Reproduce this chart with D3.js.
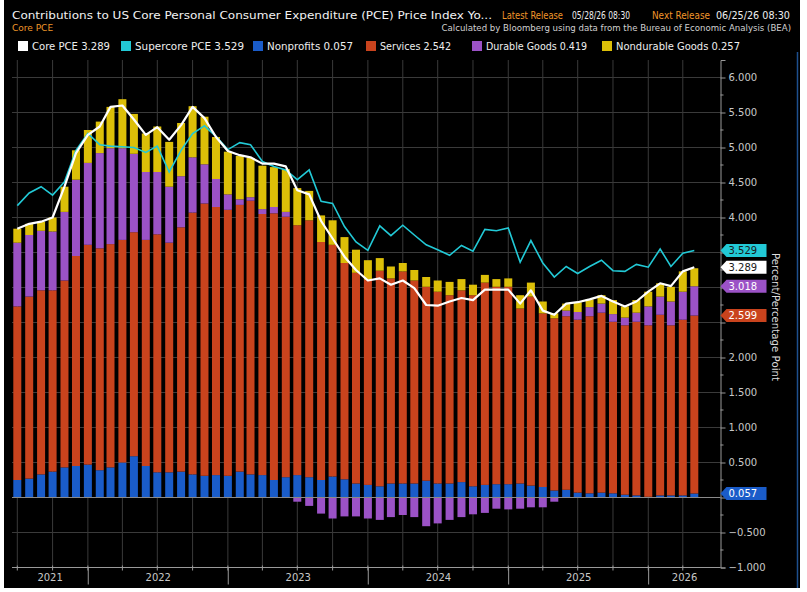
<!DOCTYPE html>
<html>
<head>
<meta charset="utf-8">
<script src="https://d3js.org/d3.v7.min.js"></script>
<style>
  html, body { margin: 0; padding: 0; background: #fff; }
  svg { display: block; font-family: "DejaVu Sans", Verdana, sans-serif; }
</style>
</head>
<body>
<div id="chart"></div>
<script>
// monthly observations (month-end), Jun 2021 .. Apr 2026
const months = [
  "2021-06","2021-07","2021-08","2021-09","2021-10","2021-11","2021-12",
  "2022-01","2022-02","2022-03","2022-04","2022-05","2022-06","2022-07","2022-08","2022-09","2022-10","2022-11","2022-12",
  "2023-01","2023-02","2023-03","2023-04","2023-05","2023-06","2023-07","2023-08","2023-09","2023-10","2023-11","2023-12",
  "2024-01","2024-02","2024-03","2024-04","2024-05","2024-06","2024-07","2024-08","2024-09","2024-10","2024-11","2024-12",
  "2025-01","2025-02","2025-03","2025-04","2025-05","2025-06","2025-07","2025-08","2025-09","2025-10","2025-11","2025-12",
  "2026-01","2026-02","2026-03","2026-04"
];

const nonprofits = [
  0.25,0.27,0.33,0.37,0.43,0.45,0.47,
  0.39,0.43,0.50,0.59,0.45,0.36,0.36,0.37,0.33,0.31,0.32,0.31,
  0.37,0.33,0.32,0.25,0.29,0.32,0.29,0.25,0.30,0.26,0.20,0.18,
  0.16,0.20,0.20,0.20,0.24,0.20,0.20,0.22,0.16,0.18,0.19,0.19,
  0.20,0.17,0.15,0.10,0.11,0.07,0.06,0.07,0.06,0.04,0.03,0.01,
  0.03,0.03,0.03,0.057
];
const services = [
  2.48,2.60,2.63,2.59,2.67,3.00,3.14,
  3.17,3.19,3.18,3.20,3.23,3.40,3.28,3.49,3.74,3.89,3.83,3.80,
  3.81,3.91,3.73,3.81,3.72,3.57,3.67,3.40,3.31,3.09,3.01,2.93,
  3.08,2.93,3.03,2.90,2.77,2.74,2.69,2.74,2.73,2.89,2.82,2.82,
  2.50,2.70,2.48,2.46,2.48,2.47,2.53,2.57,2.45,2.42,2.48,2.45,
  2.58,2.43,2.51,2.542
];
const durableGoods = [
  0.91,0.88,0.85,0.84,0.98,1.09,1.17,
  1.36,1.37,1.31,1.12,0.97,0.89,0.80,0.73,0.79,0.56,0.40,0.22,
  0.08,0.05,0.07,0.09,0.07,-0.06,-0.12,-0.23,-0.30,-0.27,-0.27,-0.30,
  -0.32,-0.28,-0.25,-0.28,-0.41,-0.37,-0.32,-0.28,-0.24,-0.22,-0.16,-0.17,
  -0.16,-0.14,-0.14,-0.06,0.08,0.11,0.13,0.13,0.11,0.11,0.13,0.27,
  0.26,0.34,0.40,0.419
];
const nondurableGoods = [
  0.20,0.16,0.13,0.20,0.36,0.42,0.47,
  0.45,0.59,0.70,0.57,0.55,0.65,0.64,0.76,0.73,0.68,0.60,0.61,
  0.62,0.56,0.62,0.57,0.61,0.53,0.42,0.38,0.35,0.37,0.33,0.28,
  0.18,0.17,0.12,0.15,0.14,0.16,0.19,0.16,0.15,0.11,0.11,0.12,
  0.19,0.20,0.17,0.07,0.10,0.14,0.11,0.12,0.20,0.16,0.18,0.21,
  0.19,0.21,0.29,0.257
];
const corePce = [
  3.84,3.91,3.94,4.00,4.44,4.92,5.18,
  5.30,5.58,5.60,5.40,5.18,5.29,5.11,5.32,5.58,5.42,5.15,4.95,
  4.89,4.86,4.77,4.77,4.73,4.39,4.33,3.95,3.70,3.44,3.25,3.10,
  3.13,3.04,3.10,2.99,2.75,2.74,2.80,2.85,2.82,2.97,2.97,2.97,
  2.77,2.96,2.67,2.61,2.77,2.79,2.83,2.88,2.80,2.73,2.80,2.94,
  3.06,3.02,3.23,3.289
];
const supercorePce = [
  4.17,4.35,4.44,4.32,4.51,4.96,5.20,
  5.04,5.02,5.01,5.00,4.93,5.02,4.65,4.96,5.20,5.31,5.16,4.97,
  5.07,5.04,4.80,4.73,4.68,4.54,4.68,4.23,4.20,3.87,3.65,3.53,
  3.88,3.74,3.89,3.75,3.61,3.54,3.46,3.60,3.52,3.83,3.81,3.85,
  3.36,3.67,3.35,3.15,3.30,3.20,3.30,3.39,3.24,3.23,3.33,3.29,
  3.55,3.30,3.49,3.529
];

const yTicks = [-1, -0.5, 0, 0.5, 1, 1.5, 2, 2.5, 3, 3.5, 4, 4.5, 5, 5.5, 6];
const yearLabels = ["2021","2022","2023","2024","2025","2026"];

const colors = {
  core: "#ffffff",
  supercore: "#22c9d6",
  nonprofits: "#1a5cc9",
  services: "#c9431d",
  durable: "#9b52c6",
  nondurable: "#dcbf08"
};

const W = 807, H = 592;
const svg = d3.select("#chart").append("svg")
  .attr("width", W).attr("height", H);

// panel
svg.append("rect").attr("x", 4).attr("y", 0).attr("width", 796).attr("height", 588).attr("fill", "#000");
svg.append("line").attr("x1", 797.5).attr("x2", 797.5).attr("y1", 52).attr("y2", 588)
  .attr("stroke", "#1d4f8e").attr("stroke-width", 1.5);

// header
const head = svg.append("g");
head.append("text").attr("x", 12).attr("y", 19)
  .attr("font-size", 11).attr("fill", "#f2f2f2")
  .attr("textLength", 480).attr("lengthAdjust", "spacingAndGlyphs")
  .text("Contributions to US Core Personal Consumer Expenditure (PCE) Price Index Yo...");
[["Latest Release", 502, "#f0962a", 61], ["05/28/26 08:30", 572, "#eeeeee", 58],
 ["Next Release", 652, "#f0962a", 58], ["06/25/26 08:30", 716, "#eeeeee", 74]].forEach(d => {
  head.append("text").attr("x", d[1]).attr("y", 19).attr("font-size", 10).attr("fill", d[2])
    .attr("textLength", d[3]).attr("lengthAdjust", "spacingAndGlyphs").text(d[0]);
});
head.append("text").attr("x", 12).attr("y", 31).attr("font-size", 9).attr("fill", "#f0962a")
  .text("Core PCE");
head.append("text").attr("x", 791).attr("y", 31).attr("font-size", 8.6).attr("fill", "#d0d0d0")
  .attr("text-anchor", "end")
  .text("Calculated by Bloomberg using data from the Bureau of Economic Analysis (BEA)");

// legend
const fmt = d3.format(".3f");
const last = a => a[a.length - 1];
const legendItems = [
  ["Core PCE " + fmt(last(corePce)), colors.core],
  ["Supercore PCE " + fmt(last(supercorePce)), colors.supercore],
  ["Nonprofits " + fmt(last(nonprofits)), colors.nonprofits],
  ["Services " + fmt(last(services)), colors.services],
  ["Durable Goods " + fmt(last(durableGoods)), colors.durable],
  ["Nondurable Goods " + fmt(last(nondurableGoods)), colors.nondurable]
];
const legendX = [18, 121, 253, 366, 472, 602];
const legendW = [78, 109, 86, 71, 101, 124];
const lg = svg.append("g");
legendItems.forEach((d, i) => {
  lg.append("rect").attr("x", legendX[i]).attr("y", 41).attr("width", 10).attr("height", 10).attr("fill", d[1]);
  lg.append("text").attr("x", legendX[i] + 14).attr("y", 50).attr("font-size", 10).attr("fill", "#eeeeee")
    .attr("textLength", legendW[i]).attr("lengthAdjust", "spacingAndGlyphs").text(d[0]);
});

// scales
const parse = d3.utcParse("%Y-%m");
const dates = months.map(m => d3.utcDay.offset(d3.utcMonth.offset(parse(m), 1), -1)); // month end
const x = d3.scaleUtc().domain([dates[0], last(dates)]).range([17.3, 694.3]);
const y = d3.scaleLinear().domain([-1, 6.25]).range([567.5, 60]);
const plotL = 12, plotR = 720.5;

// grid
const grid = svg.append("g");
grid.selectAll("line.h").data(yTicks.filter(v => v !== -1 && v !== 0)).join("line")
  .attr("x1", plotL).attr("x2", plotR).attr("y1", d => y(d)).attr("y2", d => y(d))
  .attr("stroke", "#3a3a3a").attr("stroke-width", 1);
grid.selectAll("line.v").data(dates.filter((d, i) => i % 3 === 0)).join("line")
  .attr("x1", d => x(d)).attr("x2", d => x(d)).attr("y1", y(6.25)).attr("y2", y(-1))
  .attr("stroke", "#3a3a3a").attr("stroke-width", 1);

// stacked bars
const rows = months.map((m, i) => ({
  date: dates[i],
  nonprofits: nonprofits[i],
  services: services[i],
  durable: durableGoods[i],
  nondurable: nondurableGoods[i]
}));
const keys = ["nonprofits", "services", "durable", "nondurable"];
const series = d3.stack().keys(keys).offset(d3.stackOffsetDiverging)(rows);
const barW = 8;
svg.append("g").selectAll("g").data(series).join("g")
  .attr("fill", s => colors[s.key])
  .selectAll("rect").data(s => s).join("rect")
    .attr("x", d => x(d.data.date) - barW / 2)
    .attr("width", barW)
    .attr("y", d => y(Math.max(d[0], d[1])))
    .attr("height", d => Math.abs(y(d[0]) - y(d[1])));

// zero line
svg.append("line").attr("x1", plotL).attr("x2", plotR).attr("y1", y(0)).attr("y2", y(0))
  .attr("stroke", "#8a8a8a").attr("stroke-width", 1);

// lines
const line = d3.line().x((d, i) => x(dates[i])).y(d => y(d));
svg.append("path").datum(supercorePce).attr("d", line)
  .attr("fill", "none").attr("stroke", colors.supercore).attr("stroke-width", 1.6);
svg.append("path").datum(corePce).attr("d", line)
  .attr("fill", "none").attr("stroke", colors.core).attr("stroke-width", 2.2)
  .attr("stroke-linejoin", "round");

// value tags on the right axis
const npLast = last(nonprofits);
const svcCum = npLast + last(services);
const durCum = svcCum + last(durableGoods);
const tags = [
  [last(supercorePce), colors.supercore, "#1a1a1a"],
  [last(corePce), colors.core, "#1a1a1a"],
  [durCum, colors.durable, "#ffffff"],
  [svcCum, colors.services, "#ffffff"],
  [npLast, colors.nonprofits, "#ffffff"]
];

// right axis (labels hidden where a value tag sits on top of them)
const covered = v => tags.some(t => Math.abs(y(t[0]) - y(v)) < 11);
const yAxis = d3.axisRight(y).tickValues(yTicks).tickSize(5).tickPadding(3)
  .tickFormat(v => covered(v) ? "" : fmt(v));
const ya = svg.append("g").attr("transform", `translate(${plotR},0)`).call(yAxis);
ya.select(".domain").attr("stroke", "#9a9a9a");
ya.selectAll(".tick line").attr("stroke", "#9a9a9a");
ya.selectAll(".tick text").attr("fill", "#c8c8c8").attr("font-size", 10)
  .attr("font-family", "DejaVu Sans, sans-serif");
const minor = yTicks.slice(0, -1).map(v => v + 0.25);
svg.append("g").selectAll("line").data(minor).join("line")
  .attr("x1", plotR).attr("x2", plotR + 3).attr("y1", d => y(d)).attr("y2", d => y(d))
  .attr("stroke", "#9a9a9a");

// bottom axis
const xb = svg.append("g");
xb.append("line").attr("x1", plotL).attr("x2", plotR).attr("y1", y(-1)).attr("y2", y(-1))
  .attr("stroke", "#9a9a9a");
xb.selectAll("line.q").data(dates.filter((d, i) => i % 3 === 0)).join("line")
  .attr("x1", d => x(d)).attr("x2", d => x(d)).attr("y1", y(-1) - 2).attr("y2", y(-1) + 3)
  .attr("stroke", "#9a9a9a");
const yearStarts = yearLabels.map(yr => d3.utcParse("%Y")(yr));
xb.selectAll("line.yr").data(yearStarts.slice(1)).join("line")
  .attr("x1", d => x(d)).attr("x2", d => x(d)).attr("y1", y(-1)).attr("y2", y(-1) + 17)
  .attr("stroke", "#9a9a9a");
xb.selectAll("text").data(yearLabels).join("text")
  .attr("x", (d, i) => {
    const a = Math.max(plotL, x(yearStarts[i]));
    const b = i < yearLabels.length - 1 ? x(yearStarts[i + 1]) : plotR;
    return (a + b) / 2;
  })
  .attr("y", 581).attr("text-anchor", "middle").attr("font-size", 10).attr("fill", "#c8c8c8")
  .text(d => d);

const tg = svg.append("g");
tags.forEach(t => {
  const ty = y(t[0]);
  tg.append("path")
    .attr("d", `M${plotR},${ty} L${plotR + 6},${ty - 6.5} L${plotR + 46},${ty - 6.5} L${plotR + 46},${ty + 6.5} L${plotR + 6},${ty + 6.5} Z`)
    .attr("fill", t[1]);
  tg.append("text").attr("x", plotR + 8).attr("y", ty + 3.8).attr("font-size", 10).attr("fill", t[2])
    .text(fmt(t[0]));
});

// axis title
svg.append("text").attr("transform", "translate(772,253) rotate(90)")
  .attr("font-size", 10.5).attr("fill", "#dddddd")
  .attr("textLength", 128).attr("lengthAdjust", "spacingAndGlyphs")
  .text("Percent/Percentage Point");
</script>
</body>
</html>
